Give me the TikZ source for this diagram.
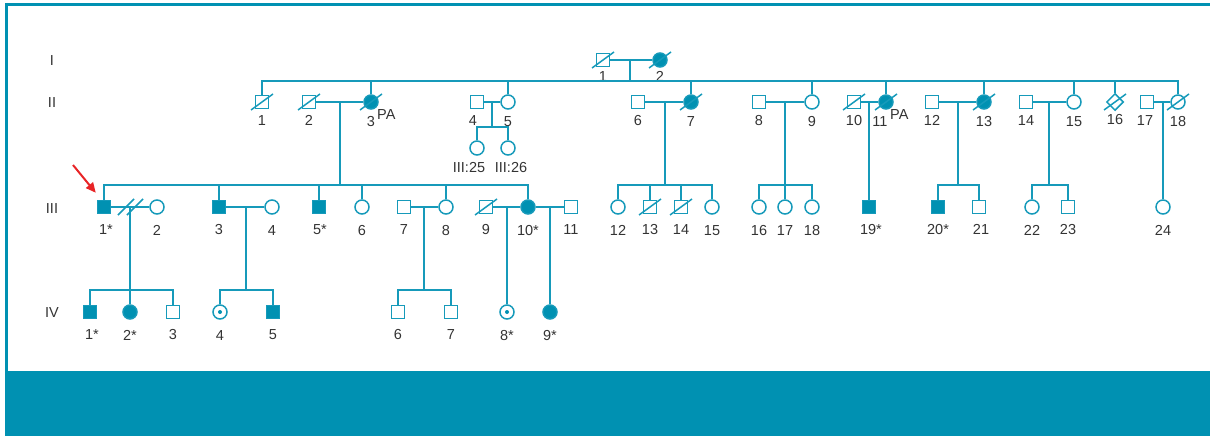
\documentclass[tikz,border=0pt]{standalone}
\usepackage{fontspec}
\setmainfont{Liberation Sans}
\usetikzlibrary{shapes.geometric,arrows.meta}
\definecolor{pedteal}{RGB}{0,145,178}
\definecolor{pedline}{RGB}{22,154,186}
\definecolor{pedtext}{RGB}{51,51,51}
\definecolor{pointer}{RGB}{232,36,38}
\begin{document}
\begin{tikzpicture}[x=1pt,y=-1pt,
  rel/.style={draw=pedline,line width=1.5pt},
  person/.style={draw=pedline,line width=1.5pt,fill=white,inner sep=0pt},
  male/.style={person,rectangle,minimum size=13pt},
  female/.style={person,circle,minimum size=14pt},
  unknown/.style={person,diamond,minimum size=17pt},
  aff/.style={fill=pedteal},
  carrier/.style={path picture={\fill[pedteal] (path picture bounding box.center) circle (2pt);}},
  lbl/.style={text=pedtext,font=\fontsize{14.5}{16}\selectfont,inner sep=0pt,text height=10.4pt,text depth=0pt},
  ptrarrow/.style={draw=pointer,line width=2pt,-{Triangle[length=10pt,width=9pt]}}
]
\useasboundingbox (0,0) rectangle (1210,436);

% frame and footer band
\fill[pedteal] (5,371) rectangle (1210,436);
\draw[pedteal,line width=3pt] (5,4.5) -- (1210,4.5);
\draw[pedteal,line width=3pt] (6.5,3) -- (6.5,371);

% generation numerals
\node[lbl] (genI)   at (52,60)  {I};
\node[lbl] (genII)  at (52,102) {II};
\node[lbl] (genIII) at (52,208) {III};
\node[lbl] (genIV)  at (52,312) {IV};

% ---------- generation I ----------
\begin{scope}[label distance=3.5pt]
\node[male]     (I1) at (603,60) [label={[lbl]below:1}] {};
\node[female,aff] (I2) at (660,60) [label={[lbl]below:2}] {};
\end{scope}

% ---------- generation II ----------
\begin{scope}[label distance=6pt]
\node[male]       (II1)  at (262,102)  [label={[lbl]below:1}] {};
\node[male]       (II2)  at (309,102)  [label={[lbl]below:2}] {};
\node[female,aff] (II3)  at (371,102)  [label={[lbl]below:3}] {};
\node[male]       (II4)  at (477,102)  [label={[lbl,xshift=-4pt]below:4}] {};
\node[female]     (II5)  at (508,102)  [label={[lbl]below:5}] {};
\node[male]       (II6)  at (638,102)  [label={[lbl]below:6}] {};
\node[female,aff] (II7)  at (691,102)  [label={[lbl]below:7}] {};
\node[male]       (II8)  at (759,102)  [label={[lbl]below:8}] {};
\node[female]     (II9)  at (812,102)  [label={[lbl]below:9}] {};
\node[male]       (II10) at (854,102)  [label={[lbl]below:10}] {};
\node[female,aff] (II11) at (886,102)  [label={[lbl,xshift=-6pt]below:11}] {};
\node[male]       (II12) at (932,102)  [label={[lbl]below:12}] {};
\node[female,aff] (II13) at (984,102)  [label={[lbl]below:13}] {};
\node[male]       (II14) at (1026,102) [label={[lbl]below:14}] {};
\node[female]     (II15) at (1074,102) [label={[lbl]below:15}] {};
\node[unknown]    (II16) at (1115,102) [label={[lbl,label distance=3pt]below:16}] {};
\node[male]       (II17) at (1147,102) [label={[lbl,xshift=-2pt]below:17}] {};
\node[female]     (II18) at (1178,102) [label={[lbl]below:18}] {};
\node[female]     (III25) at (477,148) [label={[lbl,xshift=-8pt]below:III:25}] {};
\node[female]     (III26) at (508,148) [label={[lbl,xshift=3pt]below:III:26}] {};
\end{scope}
\node[lbl,anchor=north west] (paII3)  at ([shift={(6,7)}]II3.center)  {PA};
\node[lbl,anchor=north west] (paII11) at ([shift={(4,7)}]II11.center) {PA};

% ---------- generation III ----------
\begin{scope}[label distance=10pt]
\node[male,aff]   (III1)  at (104,207) [label={[lbl,xshift=2pt]below:1*}] {};
\node[female]     (III2)  at (157,207) [label={[lbl]below:2}] {};
\node[male,aff]   (III3)  at (219,207) [label={[lbl]below:3}] {};
\node[female]     (III4)  at (272,207) [label={[lbl]below:4}] {};
\node[male,aff]   (III5)  at (319,207) [label={[lbl,xshift=1pt]below:5*}] {};
\node[female]     (III6)  at (362,207) [label={[lbl]below:6}] {};
\node[male]       (III7)  at (404,207) [label={[lbl]below:7}] {};
\node[female]     (III8)  at (446,207) [label={[lbl]below:8}] {};
\node[male]       (III9)  at (486,207) [label={[lbl]below:9}] {};
\node[female,aff] (III10) at (528,207) [label={[lbl]below:10*}] {};
\node[male]       (III11) at (571,207) [label={[lbl]below:11}] {};
\node[female]     (III12) at (618,207) [label={[lbl]below:12}] {};
\node[male]       (III13) at (650,207) [label={[lbl]below:13}] {};
\node[male]       (III14) at (681,207) [label={[lbl]below:14}] {};
\node[female]     (III15) at (712,207) [label={[lbl]below:15}] {};
\node[female]     (III16) at (759,207) [label={[lbl]below:16}] {};
\node[female]     (III17) at (785,207) [label={[lbl]below:17}] {};
\node[female]     (III18) at (812,207) [label={[lbl]below:18}] {};
\node[male,aff]   (III19) at (869,207) [label={[lbl,xshift=2pt]below:19*}] {};
\node[male,aff]   (III20) at (938,207) [label={[lbl]below:20*}] {};
\node[male]       (III21) at (979,207) [label={[lbl,xshift=2pt]below:21}] {};
\node[female]     (III22) at (1032,207) [label={[lbl]below:22}] {};
\node[male]       (III23) at (1068,207) [label={[lbl]below:23}] {};
\node[female]     (III24) at (1163,207) [label={[lbl]below:24}] {};
\end{scope}

% ---------- generation IV ----------
\begin{scope}[label distance=10pt]
\node[male,aff]   (IV1) at (90,312)  [label={[lbl,xshift=2pt]below:1*}] {};
\node[female,aff] (IV2) at (130,312) [label={[lbl]below:2*}] {};
\node[male]       (IV3) at (173,312) [label={[lbl]below:3}] {};
\node[female,carrier] (IV4) at (220,312) [label={[lbl]below:4}] {};
\node[male,aff]   (IV5) at (273,312) [label={[lbl]below:5}] {};
\node[male]       (IV6) at (398,312) [label={[lbl]below:6}] {};
\node[male]       (IV7) at (451,312) [label={[lbl]below:7}] {};
\node[female,carrier] (IV8) at (507,312) [label={[lbl]below:8*}] {};
\node[female,aff] (IV9) at (550,312) [label={[lbl]below:9*}] {};
\end{scope}

% deceased marks
\foreach \p in {I1,I2,II1,II2,II3,II7,II10,II11,II13,II16,II18,III9,III13,III14}
  \draw[rel] ([shift={(-11,8)}]\p.center) -- ([shift={(11,-8)}]\p.center);

% ---------- lines of descent, generation I -> II ----------
\coordinate (mI) at (630,60);
\coordinate (sI) at (630,81);
\draw[rel] (I1) -- (I2);
\draw[rel] (mI) -- (sI);
\draw[rel] (II1.north) |- (II18.north |- sI) -- (II18.north);
\foreach \c in {II3,II5,II7,II9,II11,II13,II15}
  \draw[rel] (\c.north) -- (\c.north |- sI);
\draw[rel] (II16.north) -- (II16.north |- sI);

% ---------- couples in generation II ----------
\foreach \a/\b in {II2/II3,II4/II5,II6/II7,II8/II9,II10/II11,II12/II13,II14/II15,II17/II18}
  \draw[rel] (\a) -- (\b);

% II2 x II3
\coordinate (m23) at (340,102);
\coordinate (s23) at (340,185);
\draw[rel] (m23) -- (s23);
\draw[rel] (III1.north) |- (III10.north |- s23) -- (III10.north);
\foreach \c in {III3,III5,III6,III8}
  \draw[rel] (\c.north) -- (\c.north |- s23);

% II4 x II5
\coordinate (m45) at (492,102);
\coordinate (s45) at (492,127);
\draw[rel] (m45) -- (s45);
\draw[rel] (III25.north) |- (III26.north |- s45) -- (III26.north);

% II6 x II7
\coordinate (m67) at (665,102);
\coordinate (s67) at (665,185);
\draw[rel] (m67) -- (s67);
\draw[rel] (III12.north) |- (III15.north |- s67) -- (III15.north);
\foreach \c in {III13,III14}
  \draw[rel] (\c.north) -- (\c.north |- s67);

% II8 x II9
\coordinate (m89) at (785,102);
\draw[rel] (m89) -- (III17.north);
\draw[rel] (III16.north) |- (III18.north |- s67) -- (III18.north);

% II10 x II11
\coordinate (m1011) at (869,102);
\draw[rel] (m1011) -- (III19.north);

% II12 x II13
\coordinate (m1213) at (958,102);
\coordinate (s1213) at (958,185);
\draw[rel] (m1213) -- (s1213);
\draw[rel] (III20.north) |- (III21.north |- s1213) -- (III21.north);

% II14 x II15
\coordinate (m1415) at (1049,102);
\coordinate (s1415) at (1049,185);
\draw[rel] (m1415) -- (s1415);
\draw[rel] (III22.north) |- (III23.north |- s1415) -- (III23.north);

% II17 x II18
\coordinate (m1718) at (1163,102);
\draw[rel] (m1718) -- (III24.north);

% ---------- couples in generation III ----------
\draw[rel] (III1) -- (III2);
\draw[rel] (III3) -- (III4);
\draw[rel] (III7) -- (III8);
\draw[rel] (III9) -- (III10);
\draw[rel] (III10) -- (III11);

% separation mark on III1 x III2
\draw[rel] (118,215) -- (134,199);
\draw[rel] (127,215) -- (143,199);

% III1 x III2
\coordinate (mIII12) at (130,207);
\coordinate (sIII12) at (130,290);
\draw[rel] (mIII12) -- (IV2.north);
\draw[rel] (IV1.north) |- (IV3.north |- sIII12) -- (IV3.north);

% III3 x III4
\coordinate (mIII34) at (246,207);
\coordinate (sIII34) at (246,290);
\draw[rel] (mIII34) -- (sIII34);
\draw[rel] (IV4.north) |- (IV5.north |- sIII34) -- (IV5.north);

% III7 x III8
\coordinate (mIII78) at (424,207);
\coordinate (sIII78) at (424,290);
\draw[rel] (mIII78) -- (sIII78);
\draw[rel] (IV6.north) |- (IV7.north |- sIII78) -- (IV7.north);

% III9 x III10 and III10 x III11
\coordinate (mIII910) at (507,207);
\draw[rel] (mIII910) -- (IV8.north);
\coordinate (mIII1011) at (550,207);
\draw[rel] (mIII1011) -- (IV9.north);

% proband pointer
\coordinate (ptr) at (73,165);
\draw[ptrarrow] (ptr) -- ([shift={(-1,-7)}]III1.north west);
\end{tikzpicture}
\end{document}
